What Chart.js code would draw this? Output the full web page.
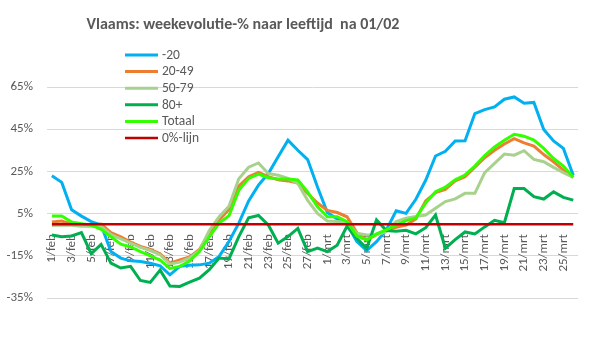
<!DOCTYPE html>
<html>
<head>
<meta charset="utf-8">
<script src="https://cdn.jsdelivr.net/npm/chart.js@4/dist/chart.umd.min.js"></script>
<style>
  html, body { margin: 0; padding: 0; background: #ffffff; }
  #wrap { width: 599px; height: 359px; position: relative; }
</style>
</head>
<body>
<div id="wrap"><canvas id="chart"></canvas></div>
<script>
// Datums (1/feb t/m 26/mrt), elke tweede wordt als label getoond
const dagen = [
  '1/feb', '2/feb', '3/feb', '4/feb', '5/feb', '6/feb', '7/feb', '8/feb', '9/feb', '10/feb',
  '11/feb', '12/feb', '13/feb', '14/feb', '15/feb', '16/feb', '17/feb', '18/feb', '19/feb', '20/feb',
  '21/feb', '22/feb', '23/feb', '24/feb', '25/feb', '26/feb', '27/feb', '28/feb',
  '1/mrt', '2/mrt', '3/mrt', '4/mrt', '5/mrt', '6/mrt', '7/mrt', '8/mrt', '9/mrt', '10/mrt',
  '11/mrt', '12/mrt', '13/mrt', '14/mrt', '15/mrt', '16/mrt', '17/mrt', '18/mrt', '19/mrt', '20/mrt',
  '21/mrt', '22/mrt', '23/mrt', '24/mrt', '25/mrt', '26/mrt'
];

// weekevolutie in %
const min20 = [
  22.9, 19.8, 6.8, 3.8, 1.2, -0.4, -13, -16.1, -17.4, -17.7,
  -18.5, -19.8, -24, -20, -19.5, -19.3, -18.5, -15.3, -8.2, 0.5,
  11, 18.5, 24, 31.9, 39.8, 35, 30.6, 17.6,
  5.5, 2.5, 0, -8.3, -12.5, -8.3, -2.7, 6.3, 5.1, 11.8,
  20.8, 32.3, 34.5, 39.4, 39.5, 52.4, 54.3, 55.6, 59.2, 60.3,
  57.3, 57.7, 44.9, 39.4, 35.9, 23.2
];
const a20_49 = [
  1, 1.5, 0, -0.5, -0.5, 0, -4, -6, -8.5, -10.5,
  -12, -14, -18.5, -17, -15.5, -12, -4, 2, 7, 18,
  22.5, 24.5, 22.5, 21, 20.5, 19.5, 14.5, 10,
  6.5, 5.5, 3.5, -4, -7.5, -5, -2.7, -1.5, -0.5, 2.5,
  11, 15, 16.5, 20.5, 22.5, 27, 31.5, 35, 38, 40.5,
  38.5, 37, 33, 29.5, 25.6, 22.2
];
const a50_79 = [
  -0.7, -0.4, -0.5, -1, -1, -1, -5, -7, -9, -11,
  -12.5, -14.5, -19, -18, -16, -12.5, -3, 3.5, 8.5, 21.5,
  27, 29, 24, 23.2, 21.7, 19.3, 11.3, 5.1,
  1.5, 1.2, 0.8, -4.3, -5.1, -5.1, -3.5, 1.2, 2.8, 3.6,
  4.3, 7.5, 10.7, 12, 14.6, 14.6, 24.4, 28.8, 33.2, 32.7,
  34.8, 30.7, 29.6, 26.9, 24.4, 22.2
];
const a80plus = [
  -5.1, -6, -5.6, -4, -14, -9.6, -18.5, -20.8, -20, -26.7,
  -27.6, -21.8, -29.3, -29.5, -27.5, -25.6, -21.6, -16.1, -16.5, -5.9,
  3, 4.1, -0.4, -9, -5.9, -2, -13, -11.4,
  -13, -10, -1, -6.8, -11.5, 2, -3, -3.4, -2.9, -4.6,
  -1.7, 4.3, -11.4, -7.3, -3.7, -4.6, -1.3, 1.8, 0.7, 16.9,
  16.9, 13, 11.9, 15.3, 12.7, 11.4
];
const totaal = [
  3.9, 3.9, 1, 0.2, -0.5, -2.5, -6, -9.5, -10.8, -13,
  -15, -17, -21, -20, -17.5, -13, -6, 0.5, 4, 16,
  21.7, 23.7, 22, 21.4, 21.4, 20.9, 15.3, 8.2,
  3.5, 3.5, 1.2, -5.6, -7.5, -4.6, -2.7, -0.5, 1.7, 3,
  10, 15.4, 17.5, 21, 23.3, 27.5, 32.5, 36.6, 39.8, 42.6,
  41.7, 39.8, 35.9, 31.1, 27.5, 22.2
];
const nulLijn = [
  0, 0, 0, 0, 0, 0, 0, 0, 0, 0,
  0, 0, 0, 0, 0, 0, 0, 0, 0, 0,
  0, 0, 0, 0, 0, 0, 0, 0,
  0, 0, 0, 0, 0, 0, 0, 0, 0, 0,
  0, 0, 0, 0, 0, 0, 0, 0, 0, 0,
  0, 0, 0, 0, 0, 0
];

const yTicks = [-35, -15, 5, 25, 45, 65];

const TITEL = 'Vlaams: weekevolutie-% naar leeftijd  na 01/02';
const FONT = "Carlito, Calibri, Lato, sans-serif";
const GRIJS = '#595959';

// Titel los getekend (staat niet gecentreerd in de grafiek)
const titelPlugin = {
  id: 'titel',
  afterDraw(chart) {
    const ctx = chart.ctx;
    ctx.save();
    ctx.font = 'bold 16px ' + FONT;
    ctx.fillStyle = GRIJS;
    ctx.textAlign = 'center';
    ctx.textBaseline = 'alphabetic';
    ctx.fillText(TITEL, 243, 29);
    ctx.restore();
  }
};

// Legenda verticaal, over het plotgebied heen
const legendaPlugin = {
  id: 'legenda',
  afterDraw(chart) {
    const ctx = chart.ctx;
    ctx.save();
    ctx.font = '13.5px ' + FONT;
    ctx.textBaseline = 'middle';
    chart.data.datasets.forEach((ds, i) => {
      const y = 55 + i * 16.6;
      ctx.strokeStyle = ds.borderColor;
      ctx.lineWidth = ds.borderWidth;
      ctx.beginPath();
      ctx.moveTo(125, y);
      ctx.lineTo(158, y);
      ctx.stroke();
      ctx.fillStyle = GRIJS;
      ctx.fillText(ds.label, 162, y + 0.5);
    });
    ctx.restore();
  }
};

function lijn(label, data, kleur, breedte, volgorde) {
  return {
    label: label,
    data: data,
    borderColor: kleur,
    backgroundColor: kleur,
    borderWidth: breedte,
    pointRadius: 0,
    tension: 0,
    fill: false,
    order: volgorde,
  };
}

new Chart(document.getElementById('chart'), {
  type: 'line',
  data: {
    labels: dagen,
    datasets: [
      lijn('-20', min20, '#00B0F0', 3, 6),
      lijn('20-49', a20_49, '#ED7D31', 3, 5),
      lijn('50-79', a50_79, '#A9D18E', 3, 4),
      lijn('80+', a80plus, '#00B050', 3, 3),
      lijn('Totaal', totaal, '#33FF00', 3, 2),
      lijn('0%-lijn', nulLijn, '#C00000', 2.5, 1),
    ]
  },
  options: {
    responsive: true,
    maintainAspectRatio: false,
    animation: false,
    layout: {
      padding: { left: 0, right: 18, top: 87, bottom: 61 }
    },
    plugins: {
      legend: { display: false },
      title: { display: false },
      tooltip: { enabled: false },
    },
    scales: {
      x: {
        position: { y: 0 },
        offset: true,
        grid: { display: false, drawTicks: false },
        border: { display: false },
        ticks: {
          autoSkip: false,
          minRotation: 90,
          maxRotation: 90,
          padding: 10,
          color: GRIJS,
          font: { family: FONT, size: 13 },
          callback: (val, i) => (i % 2 === 0 ? dagen[i] : ''),
        },
      },
      y: {
        min: yTicks[0],
        max: yTicks[yTicks.length - 1],
        afterBuildTicks: (s) => { s.ticks = yTicks.map(v => ({ value: v })); },
        afterFit: (s) => { s.width = 47; },
        grid: { color: '#D9D9D9', lineWidth: 1, drawTicks: false },
        border: { display: false },
        ticks: {
          padding: 14,
          color: GRIJS,
          font: { family: FONT, size: 13 },
          callback: (v) => v + '%',
        },
      },
    },
  },
  plugins: [titelPlugin, legendaPlugin],
});
</script>
</body>
</html>
